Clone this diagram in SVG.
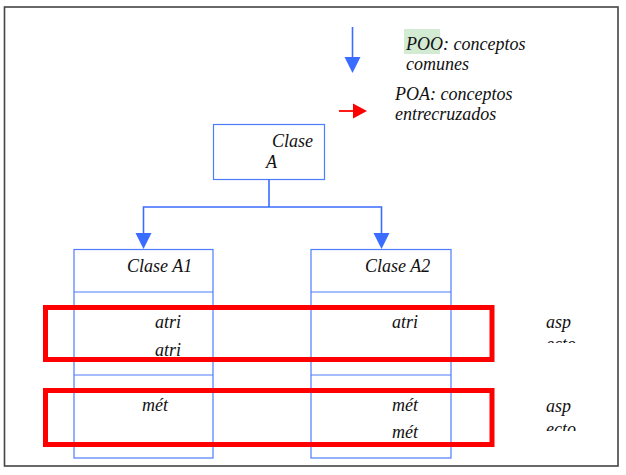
<svg xmlns="http://www.w3.org/2000/svg" width="626" height="475" viewBox="0 0 626 475">
  <style>
    text { font-family: 'Liberation Serif', 'Times New Roman', Times, serif; font-style: italic; font-size: 18px; fill: #111; }
    .box { fill: #fff; stroke: #4d7cff; stroke-width: 1.2; }
    .div { stroke: #4d7cff; stroke-width: 1.2; }
    .conn { fill: none; stroke: #3a6cff; stroke-width: 1.6; }
    .aspect { fill: none; stroke: #ff0000; stroke-width: 5; }
  </style>
  <defs>
    <clipPath id="clip1"><rect x="530" y="300" width="80" height="43"/></clipPath>
    <clipPath id="clip2"><rect x="530" y="385" width="80" height="46"/></clipPath>
  </defs>

  <rect x="0" y="0" width="626" height="475" fill="#fff"/>
  <rect x="4.5" y="7" width="613.5" height="459" fill="none" stroke="#444" stroke-width="1.6"/>

  <g id="legend">
    <rect x="404" y="29" width="36" height="25" fill="#d3ead3"/>
    <line x1="352.5" y1="27" x2="352.5" y2="58" stroke="#3a6cff" stroke-width="1.6"/>
    <path d="M344.5,57 L360.5,57 L352.5,73 Z" fill="#3a6cff"/>
    <text font-family="Liberation Serif, serif" x="406" y="50">POO: conceptos</text>
    <text font-family="Liberation Serif, serif" x="406" y="70">comunes</text>
    <line x1="339" y1="111" x2="354" y2="111" stroke="#ff0000" stroke-width="1.8"/>
    <path d="M353,103.5 L367,111 L353,118.5 Z" fill="#ff0000"/>
    <text font-family="Liberation Serif, serif" x="395" y="100">POA: conceptos</text>
    <text font-family="Liberation Serif, serif" x="395" y="120">entrecruzados</text>
  </g>

  <g id="claseA">
    <rect class="box" x="213.5" y="124.5" width="111" height="55"/>
    <text x="272" y="147">Clase</text>
    <text x="266" y="168">A</text>
  </g>

  <g id="connectors">
    <path class="conn" d="M269,179.5 V207 M143.5,207 H381.5 M143.5,206.2 V233 M381.5,206.2 V233"/>
    <path d="M135.5,233 L151.5,233 L143.5,249 Z" fill="#3a6cff"/>
    <path d="M373.5,233 L389.5,233 L381.5,249 Z" fill="#3a6cff"/>
  </g>

  <g id="claseA1">
    <rect class="box" x="74" y="249.5" width="139" height="208.5"/>
    <line class="div" x1="74" y1="292" x2="213" y2="292"/>
    <line class="div" x1="74" y1="375" x2="213" y2="375"/>
    <text x="127" y="272">Clase A1</text>
    <text x="155" y="328">atri</text>
    <text x="155" y="356">atri</text>
    <text x="142" y="411">mét</text>
  </g>

  <g id="claseA2">
    <rect class="box" x="311" y="249.5" width="140" height="208.5"/>
    <line class="div" x1="311" y1="292" x2="451" y2="292"/>
    <line class="div" x1="311" y1="375" x2="451" y2="375"/>
    <text x="365" y="272">Clase A2</text>
    <text x="392" y="328">atri</text>
    <text x="392" y="411">mét</text>
    <text x="392" y="438">mét</text>
  </g>

  <g id="aspecto1">
    <rect class="aspect" x="45.5" y="307.5" width="446.5" height="52"/>
    <g clip-path="url(#clip1)">
      <text x="546" y="328">asp</text>
      <text x="546" y="350">ecto</text>
    </g>
  </g>

  <g id="aspecto2">
    <rect class="aspect" x="45.5" y="390.5" width="446.5" height="54"/>
    <g clip-path="url(#clip2)">
      <text x="546" y="412">asp</text>
      <text x="546" y="435">ecto</text>
    </g>
  </g>
</svg>
